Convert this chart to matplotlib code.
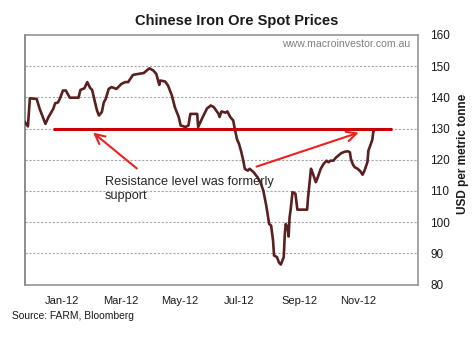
import matplotlib
matplotlib.use("Agg")
import matplotlib.pyplot as plt
import matplotlib.dates as mdates
import numpy as np

plt.rcParams['font.family'] = ['Liberation Sans', 'DejaVu Sans']

# Daily spot price observations (USD per metric tonne)
dates = [
    "2011-11-24", "2011-11-27", "2011-11-29", "2011-12-06", "2011-12-09",
    "2011-12-15", "2011-12-18", "2011-12-23", "2011-12-25", "2011-12-28",
    "2011-12-30", "2012-01-02", "2012-01-05", "2012-01-09", "2012-01-18",
    "2012-01-20", "2012-01-24", "2012-01-27", "2012-01-30", "2012-02-01",
    "2012-02-04", "2012-02-06", "2012-02-08", "2012-02-11", "2012-02-13",
    "2012-02-15", "2012-02-18", "2012-02-21", "2012-02-26", "2012-03-02",
    "2012-03-06", "2012-03-09", "2012-03-14", "2012-03-19", "2012-03-25",
    "2012-03-30", "2012-03-31", "2012-04-04", "2012-04-07", "2012-04-10",
    "2012-04-11", "2012-04-16", "2012-04-19", "2012-04-23", "2012-04-26",
    "2012-04-30", "2012-05-02", "2012-05-07", "2012-05-10", "2012-05-12",
    "2012-05-19", "2012-05-20", "2012-05-24", "2012-05-29", "2012-06-02",
    "2012-06-05", "2012-06-10", "2012-06-11", "2012-06-13", "2012-06-17",
    "2012-06-19", "2012-06-22", "2012-06-25", "2012-06-27", "2012-06-29",
    "2012-07-01", "2012-07-03", "2012-07-05", "2012-07-07", "2012-07-10",
    "2012-07-12", "2012-07-16", "2012-07-20", "2012-07-23", "2012-07-26",
    "2012-07-29", "2012-08-01", "2012-08-03", "2012-08-05", "2012-08-06",
    "2012-08-09", "2012-08-11", "2012-08-13", "2012-08-16", "2012-08-17",
    "2012-08-18", "2012-08-20", "2012-08-21", "2012-08-22", "2012-08-23",
    "2012-08-25", "2012-08-28", "2012-08-30", "2012-09-03", "2012-09-09",
    "2012-09-10", "2012-09-13", "2012-09-15", "2012-09-18", "2012-09-20",
    "2012-09-23", "2012-09-26", "2012-09-29", "2012-10-01", "2012-10-03",
    "2012-10-06", "2012-10-09", "2012-10-11", "2012-10-14", "2012-10-18",
    "2012-10-21", "2012-10-23", "2012-10-24", "2012-10-26", "2012-10-28",
    "2012-10-31", "2012-11-03", "2012-11-05", "2012-11-07", "2012-11-10",
    "2012-11-11", "2012-11-13", "2012-11-15", "2012-11-16", "2012-11-17",
]
prices = [
    132.0, 130.7, 139.7, 139.5, 136.4,
    131.5, 133.6, 136.3, 138.1, 138.4,
    139.7, 142.2, 142.2, 139.9, 139.9,
    142.4, 142.9, 144.9, 143.0, 142.4,
    138.4, 135.8, 134.2, 135.3, 138.4,
    139.5, 142.7, 143.3, 142.7, 144.3,
    144.9, 144.9, 147.2, 147.5, 147.8,
    149.1, 149.3, 148.6, 147.5, 144.0,
    145.4, 145.1, 143.8, 140.6, 136.9,
    133.7, 131.0, 130.5, 131.0, 134.7,
    134.7, 130.5, 133.2, 136.4, 137.4,
    136.9, 134.7, 133.7, 135.5, 135.1,
    135.5, 133.7, 132.6, 129.4, 126.5,
    125.1, 122.9, 120.3, 117.1, 116.5,
    117.1, 116.0, 114.4, 112.8, 110.1,
    105.3, 99.4, 98.9, 94.1, 89.3,
    88.8, 87.1, 86.4, 88.8, 95.7,
    99.4, 98.4, 95.4, 101.6, 103.7,
    109.6, 109.1, 104.0, 104.0, 104.0,
    108.0, 117.1, 115.5, 112.8, 114.4,
    117.1, 118.7, 119.7, 119.2, 119.7,
    119.7, 120.8, 121.3, 122.1, 122.6,
    122.7, 122.4, 120.3, 118.5, 117.6,
    117.1, 116.2, 115.2, 116.5, 119.2,
    122.9, 124.6, 126.4, 128.8, 129.7,
]

# Former support, now resistance
resistance_level = 130
resistance_span = ["2011-12-23", "2012-12-05"]

tick_months = ["2012-01-01", "2012-03-01", "2012-05-01",
               "2012-07-01", "2012-09-01", "2012-11-01"]
tick_labels = ["Jan-12", "Mar-12", "May-12", "Jul-12", "Sep-12", "Nov-12"]
y_ticks = [80, 90, 100, 110, 120, 130, 140, 150, 160]

x = mdates.datestr2num(dates)
W, H = 474, 337
fig = plt.figure(figsize=(W / 100, H / 100), dpi=100)
ax = fig.add_axes([25 / W, 1 - 284.5 / H, 393 / W, 249.5 / H])

for yv in y_ticks[1:-1]:
    ax.axhline(yv, color="#a6a6a6", lw=0.8, ls=(0, (2, 1.5)), zorder=1)

ax.plot(x, prices, color="#5a1f1f", lw=1.9, zorder=3, solid_joinstyle="round")

rx = mdates.datestr2num(resistance_span)
ax.plot(rx, [resistance_level, resistance_level], color="#c80000", lw=2.2,
        zorder=4, solid_capstyle="butt")

arrow_kw = dict(arrowstyle="->,head_length=0.7,head_width=0.35",
                color="#f02020", lw=1.5, shrinkA=0, shrinkB=0)
ax.annotate("", xy=(mdates.datestr2num("2012-02-02"), 128.7),
            xytext=(mdates.datestr2num("2012-03-18"), 117.2),
            arrowprops=arrow_kw, zorder=5)
ax.annotate("", xy=(mdates.datestr2num("2012-11-01"), 128.7),
            xytext=(mdates.datestr2num("2012-07-19"), 117.8),
            arrowprops=arrow_kw, zorder=5)

ax.text(mdates.datestr2num("2012-02-14"), 114.9,
        "Resistance level was formerly\nsupport", fontsize=9.2,
        color="#262626", ha="left", va="top", linespacing=1.3, zorder=6)

ax.text(0.98, 0.964, "www.macroinvestor.com.au", transform=ax.transAxes,
        fontsize=7.6, color="#808080", ha="right", va="center")

ax.set_xlim(mdates.datestr2num("2011-11-24"), mdates.datestr2num("2013-01-01"))
ax.set_ylim(80, 160)
ax.set_xticks(mdates.datestr2num(tick_months))
ax.set_xticklabels(tick_labels)
ax.set_yticks(y_ticks)
ax.yaxis.tick_right()
ax.tick_params(axis="x", length=0, pad=8, labelsize=8, labelcolor="#1a1a1a")
ax.tick_params(axis="y", length=0, pad=9, labelsize=8.5, labelcolor="#1a1a1a")
for lbl in ax.get_yticklabels():
    lbl.set_horizontalalignment("left")

for s in ax.spines.values():
    s.set_color("#8c8c8c")
    s.set_linewidth(1.1)
ax.spines["left"].set_color("#6e6e6e")

ax.text(1.114, 0.525, "USD per metric tonne", transform=ax.transAxes,
        rotation=90, ha="center", va="center", fontsize=8.5,
        fontweight="bold", color="#1a1a1a")

fig.text(0.5, 1 - 21 / H, "Chinese Iron Ore Spot Prices", ha="center",
         va="center", fontsize=10.5, fontweight="bold", color="#1a1a1a")
fig.text(12.5 / W, 1 - 316 / H, "Source: FARM, Bloomberg", ha="left",
         va="center", fontsize=7.4, color="#1a1a1a")

fig.savefig("out.png", dpi=100)
